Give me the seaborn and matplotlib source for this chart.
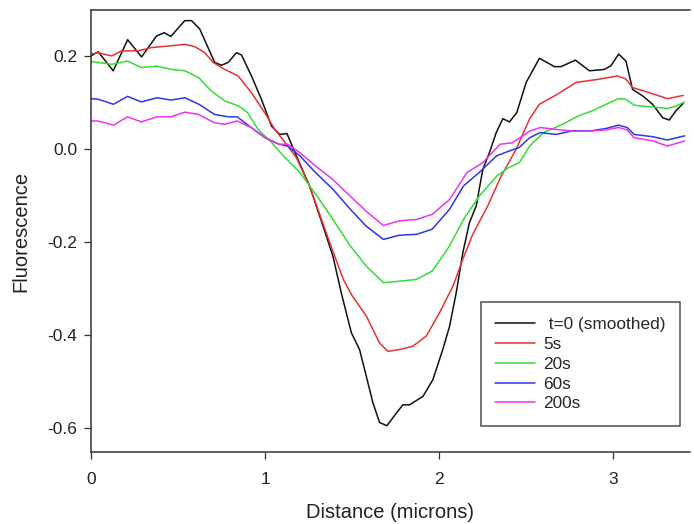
import pandas as pd
import seaborn as sns
import matplotlib.pyplot as plt

# curvas (distancia en micras, fluorescencia)
t0_x = [0.0, 0.042, 0.128, 0.211, 0.291, 0.377, 0.421, 0.459, 0.539, 0.578, 0.625, 0.711,
        0.750, 0.788, 0.836, 0.865, 0.922, 0.979, 1.037, 1.084, 1.126, 1.180, 1.256, 1.333,
        1.390, 1.438, 1.496, 1.543, 1.582, 1.620, 1.658, 1.700, 1.754, 1.792, 1.830, 1.907,
        1.964, 2.021, 2.060, 2.098, 2.136, 2.174, 2.213, 2.251, 2.289, 2.328, 2.366, 2.404,
        2.446, 2.500, 2.576, 2.662, 2.700, 2.783, 2.863, 2.949, 2.987, 3.031, 3.073, 3.111,
        3.169, 3.226, 3.284, 3.322, 3.360, 3.402]
t0_y = [0.201, 0.210, 0.169, 0.236, 0.199, 0.244, 0.251, 0.243, 0.277, 0.277, 0.259, 0.187,
        0.181, 0.187, 0.208, 0.203, 0.158, 0.108, 0.050, 0.032, 0.034, -0.014, -0.079, -0.165,
        -0.230, -0.309, -0.395, -0.431, -0.489, -0.546, -0.588, -0.595, -0.568, -0.550, -0.550, -0.532,
        -0.496, -0.431, -0.381, -0.309, -0.223, -0.158, -0.122, -0.043, -0.007, 0.036, 0.066, 0.059,
        0.079, 0.144, 0.196, 0.178, 0.178, 0.192, 0.169, 0.172, 0.180, 0.205, 0.190, 0.129,
        0.115, 0.097, 0.068, 0.063, 0.083, 0.099]

s5_x = [0.0, 0.042, 0.119, 0.176, 0.271, 0.348, 0.463, 0.539, 0.597, 0.654, 0.702, 0.769,
        0.845, 0.922, 0.998, 1.056, 1.123, 1.180, 1.256, 1.352, 1.40, 1.45, 1.50, 1.582,
        1.658, 1.706, 1.773, 1.849, 1.926, 2.002, 2.079, 2.136, 2.193, 2.279, 2.356, 2.442,
        2.519, 2.576, 2.672, 2.787, 2.920, 3.025, 3.073, 3.111, 3.207, 3.312, 3.402]
s5_y = [0.205, 0.208, 0.201, 0.212, 0.212, 0.219, 0.223, 0.226, 0.221, 0.208, 0.187, 0.172,
        0.158, 0.122, 0.079, 0.043, 0.011, -0.018, -0.079, -0.180, -0.230, -0.280, -0.315, -0.359,
        -0.417, -0.435, -0.431, -0.424, -0.402, -0.352, -0.295, -0.237, -0.183, -0.122, -0.058, 0.0,
        0.065, 0.097, 0.117, 0.144, 0.151, 0.158, 0.151, 0.133, 0.122, 0.109, 0.116]

s20_x = [0.0, 0.04, 0.12, 0.21, 0.29, 0.38, 0.46, 0.54, 0.62, 0.69, 0.77, 0.85, 0.90, 0.96,
         1.04, 1.10, 1.20, 1.30, 1.39, 1.49, 1.58, 1.68, 1.77, 1.87, 1.96, 2.06, 2.14, 2.23,
         2.33, 2.40, 2.46, 2.52, 2.60, 2.71, 2.80, 2.88, 2.96, 3.03, 3.07, 3.12, 3.23, 3.31,
         3.36, 3.41]
s20_y = [0.189, 0.187, 0.183, 0.190, 0.176, 0.179, 0.172, 0.169, 0.154, 0.126, 0.104, 0.093,
         0.079, 0.043, 0.014, -0.012, -0.050, -0.101, -0.151, -0.208, -0.251, -0.287, -0.284,
         -0.280, -0.262, -0.208, -0.151, -0.101, -0.058, -0.039, -0.029, 0.007, 0.036, 0.054,
         0.072, 0.083, 0.097, 0.109, 0.108, 0.095, 0.091, 0.088, 0.093, 0.102]

s60_x = [0.0, 0.04, 0.13, 0.21, 0.29, 0.38, 0.46, 0.54, 0.62, 0.71, 0.79, 0.84, 0.92, 1.00,
         1.08, 1.13, 1.20, 1.29, 1.39, 1.49, 1.58, 1.68, 1.77, 1.87, 1.96, 2.06, 2.14, 2.23,
         2.33, 2.40, 2.46, 2.52, 2.58, 2.67, 2.77, 2.86, 2.96, 3.03, 3.08, 3.12, 3.23, 3.31, 3.41]
s60_y = [0.109, 0.108, 0.097, 0.114, 0.102, 0.111, 0.106, 0.111, 0.097, 0.075, 0.070, 0.070,
         0.047, 0.025, 0.011, 0.007, -0.014, -0.050, -0.086, -0.129, -0.165, -0.194, -0.185,
         -0.183, -0.172, -0.129, -0.079, -0.050, -0.014, -0.004, 0.004, 0.025, 0.036, 0.032,
         0.040, 0.039, 0.045, 0.052, 0.047, 0.032, 0.027, 0.020, 0.029]

s200_x = [0.0, 0.04, 0.13, 0.21, 0.29, 0.38, 0.46, 0.54, 0.62, 0.71, 0.77, 0.84, 0.92, 1.00,
          1.08, 1.13, 1.20, 1.29, 1.39, 1.49, 1.58, 1.68, 1.77, 1.87, 1.96, 2.06, 2.16, 2.25,
          2.35, 2.42, 2.52, 2.58, 2.67, 2.77, 2.86, 2.96, 3.03, 3.08, 3.12, 3.23, 3.31, 3.41]
s200_y = [0.061, 0.061, 0.052, 0.070, 0.059, 0.070, 0.070, 0.080, 0.075, 0.057, 0.054, 0.061,
          0.047, 0.025, 0.011, 0.011, -0.007, -0.036, -0.065, -0.101, -0.133, -0.164, -0.154,
          -0.151, -0.140, -0.108, -0.050, -0.029, 0.011, 0.014, 0.039, 0.047, 0.043, 0.039,
          0.039, 0.042, 0.047, 0.042, 0.025, 0.018, 0.007, 0.018]

series_names = [" t=0 (smoothed)", "5s", "20s", "60s", "200s"]
series_colors = ["#111111", "#e83232", "#33dd33", "#3333ee", "#ee33ee"]

# tabla larga para seaborn
frames = []
for name, xs, ys in zip(series_names,
                        [t0_x, s5_x, s20_x, s60_x, s200_x],
                        [t0_y, s5_y, s20_y, s60_y, s200_y]):
    frames.append(pd.DataFrame({"dist": xs, "fluo": ys, "serie": name}))
df = pd.concat(frames, ignore_index=True)

sns.set_style("ticks")
plt.rcParams['font.family'] = ['Liberation Sans', 'DejaVu Sans']

fig = plt.figure(figsize=(6.94, 5.24), dpi=100)
ax = fig.add_axes([0.131, 0.137, 0.863, 0.844])

sns.lineplot(data=df, x="dist", y="fluo", hue="serie", hue_order=series_names,
             palette=series_colors, estimator=None, sort=False, linewidth=1.1, ax=ax)

ax.set_xlim(0, 3.44)
ax.set_ylim(-0.652, 0.30)
ax.set_xticks([0, 1, 2, 3])
ax.set_xticklabels(["0", "1", "2", "3"])
ax.set_yticks([0.2, 0.0, -0.2, -0.4, -0.6])
ax.set_yticklabels(["0.2", "0.0", "-0.2", "-0.4", "-0.6"])
ax.tick_params(labelsize=12.5, length=5, width=0.9, color="#333333", labelcolor="#222222")
ax.tick_params(axis="x", pad=9)
ax.tick_params(axis="y", pad=5)
ax.set_xlabel("Distance (microns)", fontsize=14.5, labelpad=12, color="#222222")
ax.set_ylabel("Fluorescence", fontsize=14.5, labelpad=12, color="#222222")

for side in ["left", "bottom", "top"]:
    ax.spines[side].set_linewidth(1.1)
    ax.spines[side].set_color("#333333")
ax.spines["right"].set_visible(False)

leg = ax.legend(loc="lower right", bbox_to_anchor=(0.983, 0.059), borderaxespad=0,
                fontsize=12.4, handlelength=2.3, handletextpad=0.5, labelspacing=0.28,
                fancybox=False, frameon=True, borderpad=0.85)
leg.get_frame().set_edgecolor("#222222")
leg.get_frame().set_linewidth(1.1)

fig.savefig("out.png", dpi=100)
